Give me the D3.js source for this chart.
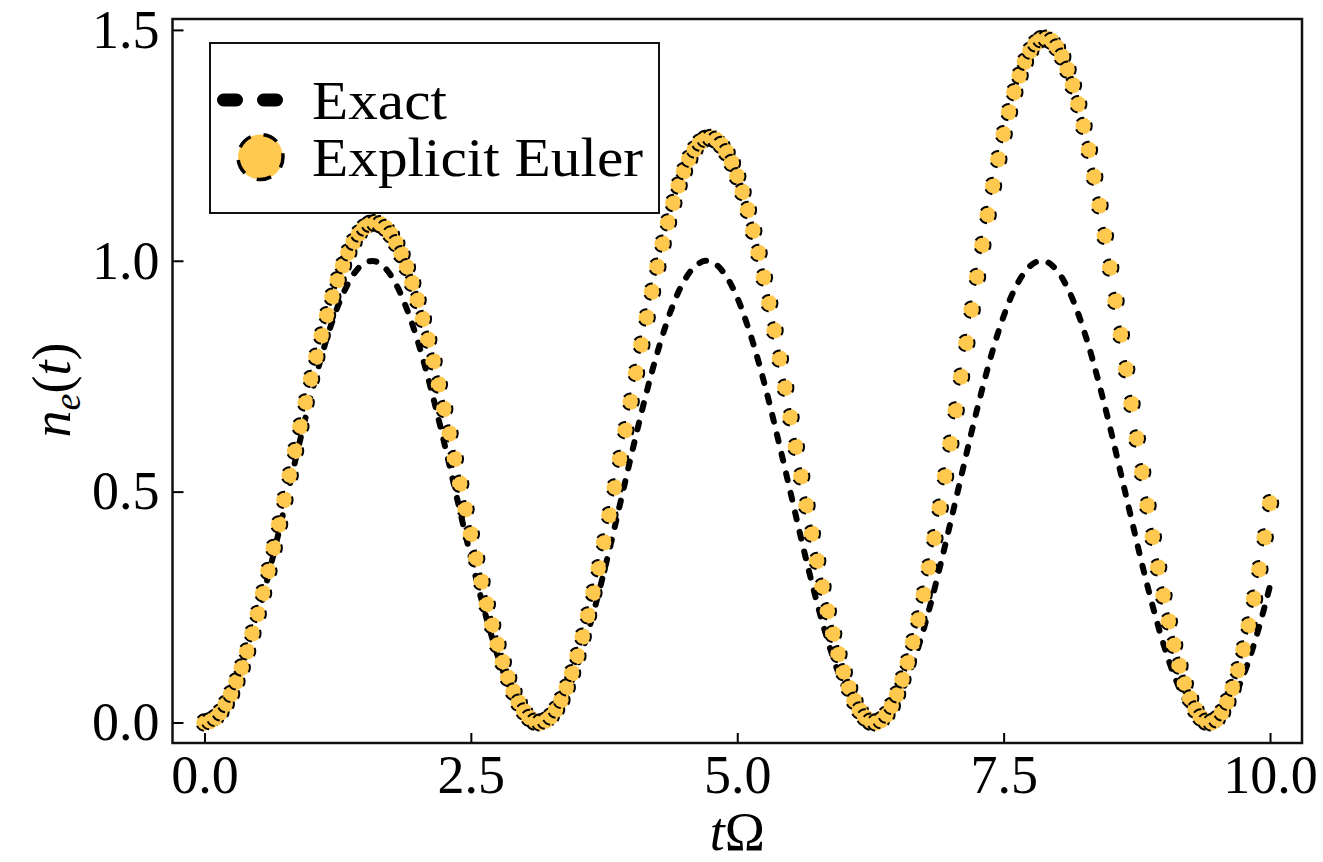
<!DOCTYPE html>
<html>
<head>
<meta charset="utf-8">
<script src="https://cdn.jsdelivr.net/npm/d3@7"></script>
<style>
  body { margin: 0; background: white; }
  svg { display: block; font-family: "Liberation Serif", "DejaVu Serif", serif; }
</style>
</head>
<body>
<div id="chart"></div>
<script>
// exact solution, sampled every 0.1
let tExact = [
  0, 0.1, 0.2, 0.3, 0.4, 0.5, 0.6, 0.7, 0.8, 0.9,
  1.0, 1.1, 1.2, 1.3, 1.4, 1.5, 1.6, 1.7, 1.8, 1.9,
  2.0, 2.1, 2.2, 2.3, 2.4, 2.5, 2.6, 2.7, 2.8, 2.9,
  3.0, 3.1, 3.2, 3.3, 3.4, 3.5, 3.6, 3.7, 3.8, 3.9,
  4.0, 4.1, 4.2, 4.3, 4.4, 4.5, 4.6, 4.7, 4.8, 4.9,
  5.0, 5.1, 5.2, 5.3, 5.4, 5.5, 5.6, 5.7, 5.8, 5.9,
  6.0, 6.1, 6.2, 6.3, 6.4, 6.5, 6.6, 6.7, 6.8, 6.9,
  7.0, 7.1, 7.2, 7.3, 7.4, 7.5, 7.6, 7.7, 7.8, 7.9,
  8.0, 8.1, 8.2, 8.3, 8.4, 8.5, 8.6, 8.7, 8.8, 8.9,
  9.0, 9.1, 9.2, 9.3, 9.4, 9.5, 9.6, 9.7, 9.8, 9.9,
  10.0
];
let nExact = [
  0, 0.010, 0.039, 0.087, 0.152, 0.230, 0.319, 0.415, 0.515, 0.614,
  0.708, 0.794, 0.869, 0.928, 0.971, 0.995, 0.999, 0.983, 0.948, 0.895,
  0.827, 0.745, 0.654, 0.556, 0.456, 0.358, 0.266, 0.183, 0.112, 0.057,
  0.020, 0.002, 0.003, 0.025, 0.065, 0.123, 0.196, 0.281, 0.374, 0.473,
  0.573, 0.670, 0.760, 0.839, 0.906, 0.956, 0.987, 1.000, 0.992, 0.965,
  0.920, 0.857, 0.781, 0.693, 0.597, 0.498, 0.398, 0.303, 0.216, 0.140,
  0.078, 0.033, 0.007, 0.000, 0.014, 0.046, 0.097, 0.164, 0.244, 0.335,
  0.432, 0.531, 0.630, 0.723, 0.808, 0.880, 0.937, 0.976, 0.997, 0.998,
  0.979, 0.941, 0.885, 0.814, 0.730, 0.638, 0.539, 0.440, 0.342, 0.251,
  0.170, 0.102, 0.050, 0.015, 0.001, 0.006, 0.030, 0.074, 0.134, 0.209,
  0.296
];

// explicit euler points, every 0.05
let tEuler = [
  0, 0.05, 0.1, 0.15, 0.2, 0.25, 0.3, 0.35, 0.4, 0.45,
  0.5, 0.55, 0.6, 0.65, 0.7, 0.75, 0.8, 0.85, 0.9, 0.95,
  1.0, 1.05, 1.1, 1.15, 1.2, 1.25, 1.3, 1.35, 1.4, 1.45,
  1.5, 1.55, 1.6, 1.65, 1.7, 1.75, 1.8, 1.85, 1.9, 1.95,
  2.0, 2.05, 2.1, 2.15, 2.2, 2.25, 2.3, 2.35, 2.4, 2.45,
  2.5, 2.55, 2.6, 2.65, 2.7, 2.75, 2.8, 2.85, 2.9, 2.95,
  3.0, 3.05, 3.1, 3.15, 3.2, 3.25, 3.3, 3.35, 3.4, 3.45,
  3.5, 3.55, 3.6, 3.65, 3.7, 3.75, 3.8, 3.85, 3.9, 3.95,
  4.0, 4.05, 4.1, 4.15, 4.2, 4.25, 4.3, 4.35, 4.4, 4.45,
  4.5, 4.55, 4.6, 4.65, 4.7, 4.75, 4.8, 4.85, 4.9, 4.95,
  5.0, 5.05, 5.1, 5.15, 5.2, 5.25, 5.3, 5.35, 5.4, 5.45,
  5.5, 5.55, 5.6, 5.65, 5.7, 5.75, 5.8, 5.85, 5.9, 5.95,
  6.0, 6.05, 6.1, 6.15, 6.2, 6.25, 6.3, 6.35, 6.4, 6.45,
  6.5, 6.55, 6.6, 6.65, 6.7, 6.75, 6.8, 6.85, 6.9, 6.95,
  7.0, 7.05, 7.1, 7.15, 7.2, 7.25, 7.3, 7.35, 7.4, 7.45,
  7.5, 7.55, 7.6, 7.65, 7.7, 7.75, 7.8, 7.85, 7.9, 7.95,
  8.0, 8.05, 8.1, 8.15, 8.2, 8.25, 8.3, 8.35, 8.4, 8.45,
  8.5, 8.55, 8.6, 8.65, 8.7, 8.75, 8.8, 8.85, 8.9, 8.95,
  9.0, 9.05, 9.1, 9.15, 9.2, 9.25, 9.3, 9.35, 9.4, 9.45,
  9.5, 9.55, 9.6, 9.65, 9.7, 9.75, 9.8, 9.85, 9.9, 9.95,
  10.0
];
let nEuler = [
  0, 0.003, 0.010, 0.022, 0.040, 0.062, 0.089, 0.119, 0.154, 0.193,
  0.235, 0.280, 0.328, 0.378, 0.429, 0.482, 0.535, 0.588, 0.641, 0.693,
  0.744, 0.792, 0.838, 0.882, 0.922, 0.958, 0.990, 1.018, 1.041, 1.059,
  1.072, 1.080, 1.082, 1.079, 1.071, 1.057, 1.038, 1.014, 0.986, 0.952,
  0.915, 0.874, 0.829, 0.782, 0.732, 0.679, 0.626, 0.571, 0.517, 0.462,
  0.408, 0.355, 0.305, 0.256, 0.211, 0.169, 0.131, 0.097, 0.067, 0.043,
  0.024, 0.010, 0.002, 0.000, 0.004, 0.013, 0.028, 0.049, 0.076, 0.107,
  0.144, 0.186, 0.232, 0.281, 0.334, 0.390, 0.449, 0.509, 0.571, 0.633,
  0.695, 0.757, 0.818, 0.877, 0.933, 0.987, 1.037, 1.083, 1.125, 1.163,
  1.194, 1.221, 1.241, 1.256, 1.264, 1.266, 1.262, 1.251, 1.235, 1.212,
  1.183, 1.149, 1.110, 1.065, 1.017, 0.964, 0.908, 0.849, 0.788, 0.725,
  0.661, 0.597, 0.533, 0.470, 0.409, 0.350, 0.294, 0.241, 0.192, 0.148,
  0.109, 0.075, 0.047, 0.026, 0.011, 0.002, 0.000, 0.005, 0.017, 0.036,
  0.061, 0.093, 0.130, 0.174, 0.223, 0.277, 0.336, 0.399, 0.465, 0.533,
  0.604, 0.676, 0.749, 0.822, 0.894, 0.965, 1.034, 1.099, 1.162, 1.220,
  1.274, 1.322, 1.365, 1.401, 1.431, 1.455, 1.471, 1.480, 1.481, 1.476,
  1.462, 1.442, 1.414, 1.380, 1.339, 1.292, 1.240, 1.182, 1.120, 1.054,
  0.985, 0.913, 0.840, 0.765, 0.690, 0.615, 0.542, 0.470, 0.402, 0.336,
  0.275, 0.219, 0.168, 0.123, 0.084, 0.052, 0.028, 0.011, 0.002, 0.000,
  0.007, 0.022, 0.045, 0.075, 0.113, 0.158, 0.210, 0.268, 0.332, 0.401,
  0.475
];

let xTicks = [0, 2.5, 5, 7.5, 10];
let yTicks = [0, 0.5, 1.0, 1.5];
let seriesNames = ["Exact", "Explicit Euler"];

let w = 1323, h = 862;
let padLeft = 172.5, padRight = 1302, padTop = 19, padBottom = 743;
let fontSize = 54;
let yellow = "#ffc94f";

let svg = d3.select("#chart").append("svg")
    .attr("width", w)
    .attr("height", h)
    .style("background-color", "white")
;

let xScale = d3.scaleLinear().domain([-0.3, 10.3]).range([padLeft, padRight]);
let yScale = d3.scaleLinear().domain([-0.0444, 1.5236]).range([padBottom, padTop]);

// exact curve (drawn first, markers sit on top of it)
let exactData = tExact.map(function(t, i){ return {t: t, n: nExact[i]}; });
let lineMaker = d3.line()
    .x(function(d){ return xScale(d.t); })
    .y(function(d){ return yScale(d.n); })
    .curve(d3.curveCatmullRom)
;
svg.append("path")
    .datum(exactData)
    .attr("d", lineMaker)
    .attr("fill", "none")
    .attr("stroke", "black")
    .attr("stroke-width", 6)
    .attr("stroke-linecap", "round")
    .attr("stroke-dasharray", "7 13")
;

// euler markers, yellow fill with a dashed black edge
let eulerData = tEuler.map(function(t, i){ return {t: t, n: nEuler[i]}; });
svg.append("g")
  .selectAll("circle")
  .data(eulerData)
  .enter()
  .append("circle")
    .attr("cx", function(d){ return xScale(d.t); })
    .attr("cy", function(d){ return yScale(d.n); })
    .attr("r", 8.2)
    .attr("fill", yellow)
    .attr("stroke", "black")
    .attr("stroke-width", 2)
    .attr("pathLength", 360)
    .attr("stroke-dasharray", "60 60")
    .attr("stroke-dashoffset", 25)
;

// axes, ticks pointing inwards
let fmt = d3.format(".1f");
let xAxis = d3.axisBottom(xScale).tickValues(xTicks).tickFormat(fmt)
    .tickSizeInner(-10).tickSizeOuter(0).tickPadding(12);
let xAxisGroup = svg.append("g")
    .attr("transform", "translate(0," + padBottom + ")")
    .call(xAxis);

let yAxis = d3.axisLeft(yScale).tickValues(yTicks).tickFormat(fmt)
    .tickSizeInner(-11).tickSizeOuter(0).tickPadding(13);
let yAxisGroup = svg.append("g")
    .attr("transform", "translate(" + padLeft + ",0)")
    .call(yAxis);

[xAxisGroup, yAxisGroup].forEach(function(g){
  g.select(".domain").remove();
  g.selectAll(".tick line").attr("stroke", "black").attr("stroke-width", 2);
  g.selectAll(".tick text")
    .attr("fill", "black")
    .style("font-family", "Liberation Serif, serif")
    .style("font-size", fontSize + "px");
});

// frame
svg.append("rect")
    .attr("x", padLeft)
    .attr("y", padTop)
    .attr("width", padRight - padLeft)
    .attr("height", padBottom - padTop)
    .attr("fill", "none")
    .attr("stroke", "#111")
    .attr("stroke-width", 2.5)
;

// axis labels
let xLabel = svg.append("text")
    .attr("x", (padLeft + padRight) / 2)
    .attr("y", 850)
    .attr("text-anchor", "middle")
    .style("font-size", fontSize + "px");
xLabel.append("tspan").attr("font-style", "italic").text("t");
xLabel.append("tspan").text("Ω");

let yLabel = svg.append("text")
    .attr("transform", "translate(70,390) rotate(-90)")
    .attr("text-anchor", "middle")
    .style("font-size", fontSize + "px");
yLabel.append("tspan").attr("font-style", "italic").text("n");
yLabel.append("tspan").attr("font-style", "italic")
    .attr("baseline-shift", "-25%").style("font-size", "38px").text("e");
yLabel.append("tspan").text("(");
yLabel.append("tspan").attr("font-style", "italic").text("t");
yLabel.append("tspan").text(")");

// legend
let legend = svg.append("g");
legend.append("rect")
    .attr("x", 210)
    .attr("y", 43)
    .attr("width", 449)
    .attr("height", 170)
    .attr("fill", "white")
    .attr("stroke", "#111")
    .attr("stroke-width", 2)
;
legend.append("line")
    .attr("x1", 223.5).attr("x2", 276.5)
    .attr("y1", 100).attr("y2", 100)
    .attr("stroke", "black")
    .attr("stroke-width", 13)
    .attr("stroke-linecap", "round")
    .attr("stroke-dasharray", "13 27")
;
legend.append("circle")
    .attr("cx", 260.5)
    .attr("cy", 157)
    .attr("r", 22.5)
    .attr("fill", yellow)
    .attr("stroke", "black")
    .attr("stroke-width", 3.5)
    .attr("pathLength", 360)
    .attr("stroke-dasharray", "38 34")
    .attr("stroke-dashoffset", 10)
;
legend.selectAll("text.lab")
  .data(seriesNames)
  .enter()
  .append("text")
    .attr("class", "lab")
    .attr("x", 312)
    .attr("y", function(d, i){ return 119 + i * 57; })
    .attr("textLength", function(d, i){ return i == 0 ? 135 : 331; })
    .attr("lengthAdjust", "spacingAndGlyphs")
    .style("font-size", fontSize + "px")
    .text(function(d){ return d; })
;
</script>
</body>
</html>
